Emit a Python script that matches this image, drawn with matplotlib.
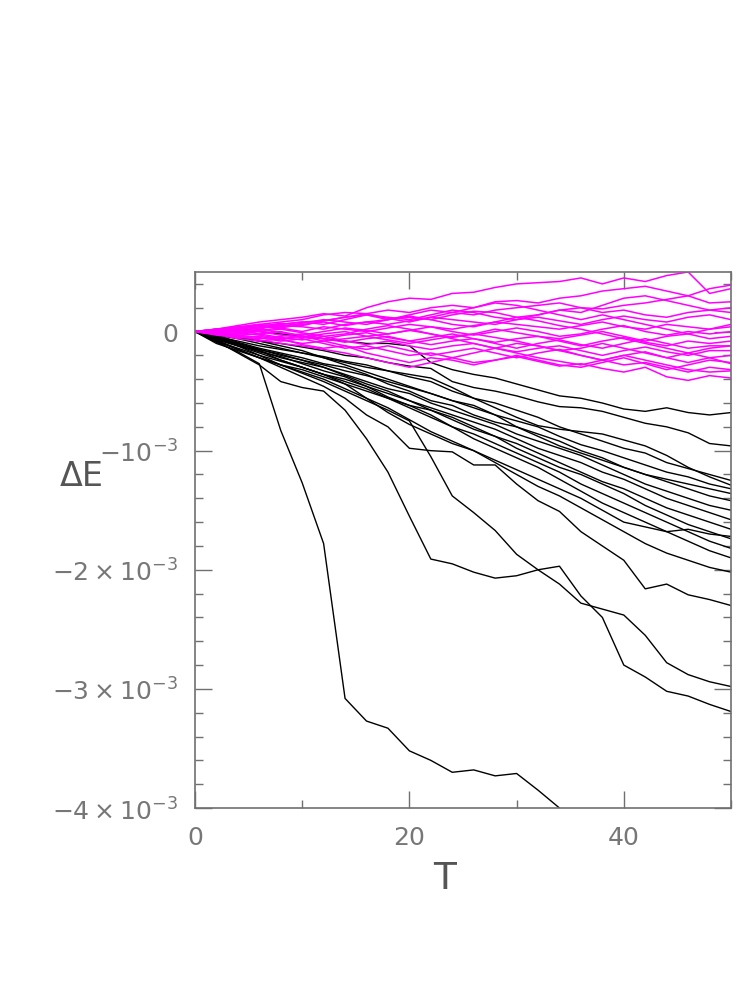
import numpy as np
import matplotlib
matplotlib.use("Agg")
import matplotlib.pyplot as plt
from matplotlib.ticker import FixedLocator, FixedFormatter

plt.rcParams['font.family'] = ['DejaVu Sans']
plt.rcParams['mathtext.fontset'] = 'dejavusans'

# time grid shared by every run
t_grid = [0, 2, 4, 6, 8, 10, 12, 14, 16, 18, 20, 22, 24, 26, 28, 30, 32, 34,
          36, 38, 40, 42, 44, 46, 48, 50]

# energy drift of the unstable runs, in units of 1e-3
nan = np.nan
run_a = [0, -0.09, -0.17, -0.27, -0.83, -1.27, -1.78, -3.08, -3.27, -3.33, -3.52, -3.60, -3.70,
         -3.68, -3.73, -3.71, -3.85, -4.0, -4.2, nan, nan, nan, nan, nan, nan, nan]
run_b = [0, -0.08, -0.18, -0.28, -0.42, -0.47, -0.50, -0.66, -0.90, -1.18, -1.55, -1.91, -1.95,
         -2.02, -2.07, -2.05, -2.0, -1.97, -2.22, -2.40, -2.80, -2.90, -3.02, -3.06, -3.13, -3.19]
run_c = [0, -0.05, -0.12, -0.20, -0.28, -0.35, -0.42, -0.50, -0.58, -0.66, -0.75, -1.05, -1.38,
         -1.52, -1.67, -1.87, -2.0, -2.12, -2.28, -2.33, -2.38, -2.55, -2.78, -2.88, -2.94, -2.98]
run_d = [0, -0.07, -0.15, -0.22, -0.30, -0.38, -0.46, -0.56, -0.70, -0.80, -0.98, -1.0, -1.01,
         -1.12, -1.12, -1.28, -1.42, -1.51, -1.68, -1.80, -1.92, -2.16, -2.12, -2.21, -2.25, -2.30]
run_e1 = [0, 0.02, 0.03, 0.0, -0.02, -0.04, -0.06, -0.08, -0.10, -0.10, -0.12, -0.26, -0.32,
          -0.36, -0.39, -0.44, -0.49, -0.54, -0.56, -0.60, -0.65, -0.67, -0.64, -0.68, -0.70, -0.68]
run_e2 = [0, -0.02, -0.05, -0.08, -0.10, -0.13, -0.16, -0.20, -0.22, -0.26, -0.29, -0.31, -0.42,
          -0.47, -0.50, -0.54, -0.59, -0.63, -0.64, -0.67, -0.72, -0.77, -0.80, -0.85, -0.94, -0.96]
run_e3 = [0, -0.03, -0.06, -0.10, -0.14, -0.18, -0.22, -0.26, -0.30, -0.33, -0.36, -0.39, -0.47,
          -0.56, -0.64, -0.72, -0.79, -0.82, -0.84, -0.86, -0.91, -0.96, -1.04, -1.14, -1.22, -1.29]
run_f1 = [0, -0.04, -0.08, -0.12, -0.15, -0.18, -0.21, -0.25, -0.28, -0.33, -0.38, -0.42, -0.50,
          -0.56, -0.60, -0.66, -0.72, -0.80, -0.86, -0.92, -0.98, -1.02, -1.10, -1.15, -1.20, -1.25]
run_f2 = [0, -0.06, -0.10, -0.15, -0.20, -0.24, -0.28, -0.33, -0.37, -0.42, -0.47, -0.52, -0.58,
          -0.62, -0.70, -0.75, -0.80, -0.88, -0.95, -1.00, -1.06, -1.12, -1.18, -1.22, -1.28, -1.32]
run_f3 = [0, -0.03, -0.09, -0.14, -0.18, -0.22, -0.27, -0.30, -0.36, -0.44, -0.50, -0.58, -0.62,
          -0.70, -0.76, -0.80, -0.86, -0.92, -1.00, -1.06, -1.14, -1.20, -1.26, -1.32, -1.38, -1.42]
run_f4 = [0, -0.07, -0.12, -0.16, -0.22, -0.26, -0.30, -0.36, -0.42, -0.48, -0.52, -0.60, -0.66,
          -0.72, -0.78, -0.86, -0.92, -0.98, -1.04, -1.12, -1.20, -1.28, -1.34, -1.40, -1.46, -1.50]
run_f5 = [0, -0.05, -0.11, -0.17, -0.21, -0.27, -0.33, -0.38, -0.46, -0.52, -0.58, -0.64, -0.70,
          -0.76, -0.82, -0.90, -0.98, -1.04, -1.10, -1.18, -1.24, -1.32, -1.40, -1.46, -1.52, -1.58]
run_f6 = [0, -0.08, -0.14, -0.20, -0.25, -0.30, -0.36, -0.40, -0.46, -0.55, -0.62, -0.66, -0.74,
          -0.82, -0.88, -0.94, -1.02, -1.10, -1.18, -1.26, -1.32, -1.40, -1.48, -1.54, -1.60, -1.66]
run_f7 = [0, -0.04, -0.10, -0.15, -0.19, -0.24, -0.30, -0.37, -0.44, -0.50, -0.58, -0.66, -0.72,
          -0.80, -0.88, -0.98, -1.06, -1.14, -1.20, -1.28, -1.36, -1.46, -1.54, -1.62, -1.68, -1.74]
run_f8 = [0, -0.10, -0.16, -0.22, -0.28, -0.32, -0.38, -0.44, -0.50, -0.56, -0.62, -0.70, -0.80,
          -0.86, -0.94, -1.02, -1.10, -1.18, -1.28, -1.36, -1.44, -1.52, -1.60, -1.68, -1.76, -1.82]
run_f9 = [0, -0.06, -0.12, -0.18, -0.24, -0.30, -0.36, -0.42, -0.48, -0.56, -0.64, -0.72, -0.80,
          -0.90, -0.98, -1.06, -1.14, -1.24, -1.34, -1.44, -1.52, -1.60, -1.68, -1.76, -1.84, -1.90]
run_f10 = [0, -0.08, -0.15, -0.22, -0.28, -0.34, -0.40, -0.48, -0.56, -0.64, -0.74, -0.84, -0.92,
           -1.00, -1.10, -1.20, -1.30, -1.38, -1.48, -1.58, -1.68, -1.78, -1.86, -1.92, -1.98, -2.02]
run_f11 = [0, -0.02, -0.04, -0.08, -0.12, -0.16, -0.22, -0.28, -0.34, -0.40, -0.46, -0.52, -0.58,
           -0.64, -0.70, -0.80, -0.88, -0.96, -1.02, -1.08, -1.14, -1.20, -1.24, -1.28, -1.32, -1.36]
run_f12 = [0, -0.05, -0.10, -0.16, -0.24, -0.30, -0.36, -0.44, -0.56, -0.68, -0.78, -0.86, -0.94,
           -1.00, -1.08, -1.16, -1.24, -1.32, -1.40, -1.50, -1.60, -1.64, -1.68, -1.66, -1.70, -1.72]

# energy drift of the stable runs, in units of 1e-3
run_m1 = [0, 0.02, 0.05, 0.08, 0.10, 0.12, 0.15, 0.13, 0.20, 0.25, 0.28, 0.27, 0.32, 0.33, 0.37,
          0.40, 0.41, 0.42, 0.45, 0.40, 0.45, 0.42, 0.47, 0.50, 0.32, 0.36]
run_m2 = [0, 0.01, 0.04, 0.06, 0.08, 0.10, 0.14, 0.16, 0.15, 0.18, 0.16, 0.20, 0.22, 0.20, 0.25,
          0.26, 0.24, 0.28, 0.30, 0.34, 0.36, 0.38, 0.34, 0.30, 0.36, 0.39]
run_m3 = [0, 0.02, 0.03, 0.05, 0.06, 0.08, 0.09, 0.12, 0.14, 0.10, 0.14, 0.18, 0.16, 0.14, 0.18,
          0.20, 0.22, 0.24, 0.20, 0.19, 0.22, 0.24, 0.27, 0.30, 0.24, 0.25]
run_m4 = [0, -0.01, 0.02, 0.04, 0.03, 0.06, 0.08, 0.05, 0.08, 0.10, 0.12, 0.10, 0.14, 0.17, 0.16,
          0.12, 0.14, 0.18, 0.20, 0.16, 0.18, 0.14, 0.12, 0.16, 0.18, 0.16]
run_m5 = [0, 0.01, 0.0, 0.03, 0.05, 0.04, 0.02, 0.06, 0.08, 0.06, 0.09, 0.12, 0.10, 0.08, 0.06,
          0.10, 0.12, 0.09, 0.06, 0.10, 0.13, 0.10, 0.08, 0.12, 0.14, 0.10]
run_m6 = [0, 0.0, -0.02, 0.01, 0.03, 0.0, 0.04, 0.02, 0.0, 0.03, 0.06, 0.04, 0.02, 0.05, 0.08,
          0.06, 0.04, 0.02, 0.05, 0.08, 0.04, 0.02, 0.06, 0.04, 0.02, 0.04]
run_m7 = [0, -0.02, -0.01, 0.02, -0.01, -0.03, 0.0, 0.03, 0.01, -0.02, 0.01, 0.04, 0.0, -0.03,
          0.0, 0.03, 0.0, -0.04, -0.02, 0.02, 0.05, 0.0, -0.03, 0.0, -0.02, 0.0]
run_m8 = [0, 0.0, 0.02, 0.0, -0.03, -0.05, -0.02, 0.0, -0.04, -0.02, 0.01, -0.02, -0.05, -0.02,
          0.02, -0.01, -0.04, -0.06, -0.03, 0.0, -0.04, -0.08, -0.04, -0.02, -0.06, -0.04]
run_m9 = [0, -0.01, -0.03, -0.02, 0.0, -0.04, -0.06, -0.03, -0.01, -0.05, -0.08, -0.05, -0.02,
          -0.06, -0.09, -0.06, -0.04, -0.08, -0.12, -0.08, -0.05, -0.09, -0.12, -0.08, -0.10, -0.08]
run_m10 = [0, -0.02, -0.04, -0.06, -0.04, -0.02, -0.06, -0.09, -0.06, -0.04, -0.08, -0.11, -0.08,
           -0.06, -0.10, -0.14, -0.10, -0.07, -0.11, -0.14, -0.10, -0.06, -0.10, -0.14, -0.12, -0.12]
run_m11 = [0, -0.01, 0.01, -0.02, -0.05, -0.07, -0.04, -0.08, -0.11, -0.08, -0.12, -0.15, -0.12,
           -0.10, -0.14, -0.17, -0.14, -0.12, -0.16, -0.20, -0.16, -0.13, -0.17, -0.20, -0.16, -0.16]
run_m12 = [0, -0.03, -0.05, -0.04, -0.07, -0.10, -0.08, -0.12, -0.15, -0.12, -0.16, -0.20, -0.17,
           -0.14, -0.18, -0.22, -0.18, -0.15, -0.20, -0.24, -0.20, -0.17, -0.22, -0.26, -0.22, -0.20]
run_m13 = [0, -0.02, -0.06, -0.08, -0.06, -0.11, -0.14, -0.12, -0.18, -0.22, -0.26, -0.22, -0.24,
           -0.28, -0.24, -0.20, -0.24, -0.28, -0.30, -0.26, -0.22, -0.27, -0.32, -0.28, -0.24, -0.26]
run_m14 = [0, -0.01, -0.03, -0.05, -0.08, -0.06, -0.10, -0.14, -0.12, -0.16, -0.20, -0.18, -0.22,
           -0.26, -0.24, -0.21, -0.25, -0.29, -0.27, -0.31, -0.34, -0.30, -0.38, -0.41, -0.37, -0.39]
run_m15 = [0, 0.01, 0.03, 0.06, 0.04, 0.07, 0.10, 0.08, 0.06, 0.10, 0.13, 0.10, 0.06, 0.04, 0.08,
           0.12, 0.09, 0.05, 0.02, -0.02, -0.06, -0.10, -0.14, -0.18, -0.22, -0.27]
run_m16 = [0, -0.01, -0.02, 0.0, 0.02, -0.01, -0.04, -0.02, 0.02, 0.05, 0.02, -0.02, -0.06, -0.10,
           -0.14, -0.18, -0.22, -0.25, -0.28, -0.24, -0.20, -0.24, -0.28, -0.32, -0.34, -0.33]
run_m17 = [0, 0.02, 0.04, 0.02, 0.06, 0.08, 0.06, 0.10, 0.14, 0.12, 0.10, 0.14, 0.18, 0.16, 0.12,
           0.10, 0.14, 0.18, 0.16, 0.22, 0.28, 0.30, 0.26, 0.22, 0.18, 0.20]
run_m18 = [0, -0.02, -0.04, -0.07, -0.10, -0.12, -0.15, -0.18, -0.22, -0.26, -0.30, -0.26, -0.22,
           -0.18, -0.14, -0.10, -0.12, -0.16, -0.14, -0.10, -0.14, -0.18, -0.22, -0.18, -0.14, -0.12]
run_m19 = [0, 0.0, 0.02, 0.04, 0.07, 0.05, 0.09, 0.12, 0.15, 0.11, 0.08, 0.12, 0.16, 0.20, 0.24,
           0.22, 0.18, 0.14, 0.10, 0.14, 0.10, 0.06, 0.02, -0.02, 0.02, 0.06]
run_m20 = [0, -0.02, -0.01, -0.03, -0.06, -0.04, -0.08, -0.06, -0.04, -0.07, -0.10, -0.07, -0.04,
           -0.02, -0.05, -0.08, -0.12, -0.16, -0.20, -0.24, -0.28, -0.26, -0.30, -0.34, -0.30, -0.32]

black_runs = [run_a, run_b, run_c, run_d, run_e1, run_e2, run_e3, run_f1, run_f2, run_f3,
              run_f4, run_f5, run_f6, run_f7, run_f8, run_f9, run_f10, run_f11, run_f12]
magenta_runs = [run_m1, run_m2, run_m3, run_m4, run_m5, run_m6, run_m7, run_m8, run_m9, run_m10,
                run_m11, run_m12, run_m13, run_m14, run_m15, run_m16, run_m17, run_m18,
                run_m19, run_m20]

y_ticks = [0, -1e-3, -2e-3, -3e-3, -4e-3]
y_labels = ['0', r'$-10^{-3}$', r'$-2\times10^{-3}$', r'$-3\times10^{-3}$', r'$-4\times10^{-3}$']
x_ticks = [0, 20, 40]
x_labels = ['0', '20', '40']

grey = '#707070'

fig = plt.figure(figsize=(7.47, 10.04), dpi=100)
ax = fig.add_axes([0.261, 0.1942, 0.7176, 0.5339])

t = np.array(t_grid, dtype=float)
for run in black_runs:
    ax.plot(t, np.array(run) * 1e-3, color='black', lw=1.0)
for run in magenta_runs:
    ax.plot(t, np.array(run) * 1e-3, color='#ff00ff', lw=1.1)

ax.set_xlim(0, 50)
ax.set_ylim(-4e-3, 0.5e-3)

ax.xaxis.set_major_locator(FixedLocator(x_ticks))
ax.xaxis.set_major_formatter(FixedFormatter(x_labels))
ax.xaxis.set_minor_locator(FixedLocator([10, 30, 50]))
ax.yaxis.set_major_locator(FixedLocator(y_ticks))
ax.yaxis.set_major_formatter(FixedFormatter(y_labels))
ax.yaxis.set_minor_locator(FixedLocator([v * 1e-4 for v in range(-40, 6, 2)]))

ax.tick_params(which='both', direction='in', top=True, right=True, color=grey,
               labelcolor='#777777', labelsize=18)
ax.tick_params(which='major', length=12, width=1.0, pad=12)
ax.tick_params(which='minor', length=6, width=1.0)
ax.tick_params(axis='y', which='major', pad=12)
for s in ax.spines.values():
    s.set_color(grey)
    s.set_linewidth(1.2)

fig.text(82 / 747, 1 - 476 / 1004, '\u0394E', fontsize=24, color='#555555',
         ha='center', va='center')
fig.text(445 / 747, 1 - 879 / 1004, 'T', fontsize=27, color='#555555',
         ha='center', va='center')

fig.savefig('out.png', dpi=100)
